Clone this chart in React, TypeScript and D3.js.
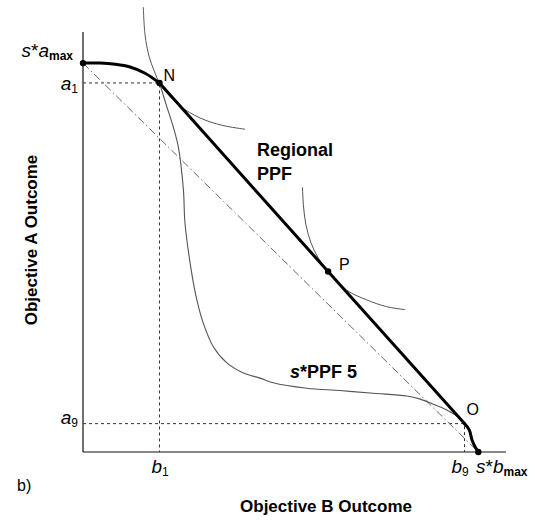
import React from "react";
import * as d3 from "d3";

// ---- data (chart units: s*b_max = 1, s*a_max = 1) ----
const regionalUpper: [number, number][] = [
  [0, 1.0], [0.043, 1.0], [0.081, 0.997], [0.119, 0.99], [0.157, 0.974], [0.1935, 0.949],
];
const regionalLine: [number, number][] = [
  [0.1935, 0.949], [0.62, 0.464], [0.965, 0.073],
];
const regionalLower: [number, number][] = [
  [0.965, 0.073], [0.977, 0.057], [0.984, 0.031], [0.992, 0.013], [1.0, 0],
];
const ppf5: [number, number][] = [
  [0.1935, 0.949], [0.212, 0.888], [0.228, 0.837], [0.241, 0.785], [0.254, 0.674],
  [0.258, 0.589], [0.275, 0.46], [0.288, 0.391], [0.304, 0.332], [0.33, 0.27],
  [0.364, 0.229], [0.406, 0.203], [0.448, 0.19], [0.481, 0.178], [0.566, 0.164],
  [0.65, 0.158], [0.734, 0.151], [0.819, 0.144], [0.853, 0.136], [0.886, 0.123],
  [0.92, 0.108], [0.945, 0.093], [0.965, 0.073],
];
const indiffN: [number, number][] = [
  [0.1525, 1.144], [0.157, 1.072], [0.167, 1.018], [0.18, 0.98], [0.1935, 0.949],
  [0.2125, 0.923], [0.245, 0.89], [0.296, 0.859], [0.352, 0.84], [0.41, 0.83],
];
const indiffP: [number, number][] = [
  [0.555, 0.681], [0.558, 0.63], [0.564, 0.584], [0.577, 0.537], [0.594, 0.501],
  [0.619, 0.464], [0.645, 0.435], [0.675, 0.411], [0.718, 0.391], [0.767, 0.374],
  [0.815, 0.366],
];
const straightLine: [number, number][] = [[0, 1], [1, 0]];
const pointN: [number, number] = [0.1935, 0.949];
const pointP: [number, number] = [0.62, 0.464];
const pointO: [number, number] = [0.965, 0.073];
const dots: [number, number][] = [[0, 1], pointN, pointP, [1, 0]];

const FONT = "'Liberation Sans', Arial, Helvetica, sans-serif";

export default function App() {
  const W = 535, H = 520;
  const xs = d3.scaleLinear().domain([0, 1.07]).range([83, 506]);
  const ys = d3.scaleLinear().domain([0, 1.08]).range([452, 32]);
  const curved = d3.line<[number, number]>().x(d => xs(d[0])).y(d => ys(d[1])).curve(d3.curveCatmullRom.alpha(0.5));
  const straight = d3.line<[number, number]>().x(d => xs(d[0])).y(d => ys(d[1]));

  const x0 = xs(0), y0 = ys(0);
  const nx = xs(pointN[0]), ny = ys(pointN[1]);
  const ox = xs(pointO[0]), oy = ys(pointO[1]);

  const italicSize = 19, subSize = 12;

  return (
    <svg width={W} height={H} style={{ position: "absolute", left: 0, top: 0, background: "#fff" }} fontFamily={FONT}>
      {/* axes */}
      <line x1={x0} y1={ys(1.08)} x2={x0} y2={y0} stroke="#111" strokeWidth={1.2} />
      <line x1={x0} y1={y0} x2={xs(1.07)} y2={y0} stroke="#111" strokeWidth={1.2} />

      {/* guides */}
      <path d={straight([[0, pointN[1]], pointN, [pointN[0], 0]])!} fill="none" stroke="#333" strokeWidth={1} strokeDasharray="3,3" />
      <path d={straight([[0, pointO[1]], pointO, [pointO[0], 0]])!} fill="none" stroke="#333" strokeWidth={1} strokeDasharray="3,3" />

      {/* dash-dot straight line */}
      <path d={straight(straightLine)!} fill="none" stroke="#666" strokeWidth={1} strokeDasharray="8,3,1.5,3" />

      {/* thin curves */}
      <path d={curved(ppf5)!} fill="none" stroke="#555" strokeWidth={1.1} />
      <path d={curved(indiffN)!} fill="none" stroke="#555" strokeWidth={1} />
      <path d={curved(indiffP)!} fill="none" stroke="#555" strokeWidth={1} />

      {/* regional PPF */}
      <path d={curved(regionalUpper)!} fill="none" stroke="#000" strokeWidth={3} strokeLinecap="round" />
      <path d={straight(regionalLine)!} fill="none" stroke="#000" strokeWidth={3} strokeLinecap="round" />
      <path d={curved(regionalLower)!} fill="none" stroke="#000" strokeWidth={3} strokeLinecap="round" />

      {dots.map((d, i) => (
        <circle key={i} cx={xs(d[0])} cy={ys(d[1])} r={3.2} fill="#000" />
      ))}

      {/* point labels */}
      <text x={nx + 4} y={ny - 2} fontSize={16}>N</text>
      <text x={xs(pointP[0]) + 11} y={ys(pointP[1]) - 2} fontSize={16}>P</text>
      <text x={ox + 2} y={oy - 9} fontSize={16}>O</text>

      <text x={257} y={156} fontSize={18} fontWeight="bold">Regional</text>
      <text x={257} y={180} fontSize={18} fontWeight="bold">PPF</text>
      <text x={290} y={378} fontSize={18} fontWeight="bold">
        <tspan fontStyle="italic">s</tspan>*PPF 5
      </text>

      {/* axis tick labels */}
      <text x={73} y={57} fontSize={italicSize} textAnchor="end">
        <tspan fontStyle="italic">s</tspan>*<tspan fontStyle="italic">a</tspan>
        <tspan fontSize={subSize} fontWeight="bold" dy={3}>max</tspan>
      </text>
      <text x={78} y={ny + 7} fontSize={italicSize} textAnchor="end">
        <tspan fontStyle="italic">a</tspan>
        <tspan fontSize={subSize} dy={3}>1</tspan>
      </text>
      <text x={78} y={oy} fontSize={italicSize} textAnchor="end">
        <tspan fontStyle="italic">a</tspan>
        <tspan fontSize={subSize} dy={3}>9</tspan>
      </text>
      <text x={nx - 8} y={473} fontSize={italicSize}>
        <tspan fontStyle="italic">b</tspan>
        <tspan fontSize={subSize} dy={3}>1</tspan>
      </text>
      <text x={ox - 13} y={473} fontSize={italicSize}>
        <tspan fontStyle="italic">b</tspan>
        <tspan fontSize={subSize} dy={3}>9</tspan>
      </text>
      <text x={476} y={473} fontSize={italicSize}>
        <tspan fontStyle="italic">s</tspan>*<tspan fontStyle="italic">b</tspan>
        <tspan fontSize={subSize} fontWeight="bold" dy={3}>max</tspan>
      </text>

      <text x={17} y={491} fontSize={16}>b)</text>

      {/* axis titles */}
      <text x={326} y={512} fontSize={17} fontWeight="bold" textAnchor="middle">Objective B Outcome</text>
      <text transform="translate(37,240) rotate(-90)" fontSize={17} fontWeight="bold" textAnchor="middle">Objective A Outcome</text>
    </svg>
  );
}
